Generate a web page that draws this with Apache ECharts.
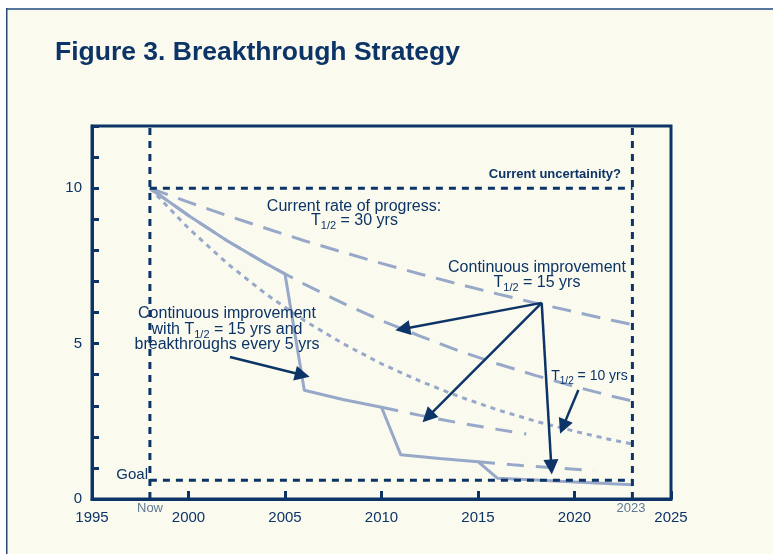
<!DOCTYPE html>
<html>
<head>
<meta charset="utf-8">
<style>
  html, body { margin: 0; padding: 0; background: #ffffff; }
  #chart { width: 773px; height: 554px; }
</style>
<script src="https://cdn.jsdelivr.net/npm/echarts/dist/echarts.min.js"></script>
</head>
<body>
<div id="chart"></div>
<script>
// values
var curveYears = [1998, 2000, 2002, 2004, 2006, 2008, 2010, 2012, 2014, 2016, 2018, 2020, 2022, 2023];
var halfLife30 = [10, 9.55, 9.12, 8.71, 8.31, 7.94, 7.58, 7.24, 6.91, 6.60, 6.30, 6.02, 5.74, 5.61];
var halfLife15 = [10, 9.12, 8.31, 7.58, 6.91, 6.30, 5.74, 5.24, 4.77, 4.35, 3.97, 3.62, 3.30, 3.15];
var halfLife10 = [10, 8.71, 7.58, 6.60, 5.74, 5.00, 4.35, 3.79, 3.30, 2.87, 2.50, 2.18, 1.89, 1.77];

var breakYears = [1998, 2000, 2002, 2004, 2005, 2006, 2008, 2010, 2011, 2013, 2015, 2016, 2018, 2020, 2023];
var breakValues = [10, 9.12, 8.31, 7.58, 7.24, 3.50, 3.20, 2.95, 1.42, 1.30, 1.20, 0.67, 0.61, 0.55, 0.46];

var after2010Years = [2010, 2012, 2014, 2016, 2017.5];
var after2010Values = [2.95, 2.69, 2.45, 2.24, 2.09];
var after2015Years = [2015, 2017, 2019, 2021];
var after2015Values = [1.20, 1.09, 1.00, 0.91];

var nowYear = 1998;
var endYear = 2023;
var startLevel = 10;
var goalLevel = 0.6;
var yTop = 12;

var xTicks = [1995, 2000, 2005, 2010, 2015, 2020, 2025];
var yLabels = [0, 5, 10];

// arrows: [from, to] in data units
var arrows = [
  [[2018.3, 6.31], [2011.1, 5.47]],
  [[2018.3, 6.31], [2012.4, 2.64]],
  [[2018.3, 6.31], [2018.8, 1.03]],
  [[2002.15, 4.57], [2005.9, 3.99]],
  [[2020.2, 3.51], [2019.4, 2.32]]
];

var navy = '#0d3466';
var light = '#97a8c9';
var FONT = 'Liberation Sans';

function pairs(xs, ys) { return xs.map(function (x, i) { return [x, ys[i]]; }); }

function curve(name, xs, ys, dash) {
  return {
    name: name, type: 'line', data: pairs(xs, ys), showSymbol: false, silent: true,
    lineStyle: { color: light, width: 3, type: dash }, z: 3
  };
}
function guide(data) {
  return {
    type: 'line', data: data, showSymbol: false, silent: true,
    lineStyle: { color: navy, width: 3, type: [7, 6] }, z: 4
  };
}

// text placed by its baseline
function txt(text, x, base, size, align, extra) {
  var s = {
    text: text, x: x, y: base - 0.35 * size, fill: navy, fontFamily: FONT, fontSize: size,
    align: align || 'center', verticalAlign: 'middle'
  };
  for (var k in extra) s[k] = extra[k];
  return { type: 'text', style: s, z: 10 };
}

var ctx = document.createElement('canvas').getContext('2d');
function measure(t, size) { ctx.font = size + 'px "' + FONT + '"'; return ctx.measureText(t).width; }

// centred line with a "1/2" subscript: before + sub + after
function subLine(before, after, cx, base, size, subSize) {
  var w1 = measure(before, size), w2 = measure('1/2', subSize), w3 = measure(after, size);
  var x0 = cx - (w1 + w2 + w3) / 2;
  return [
    txt(before, x0, base, size, 'left'),
    txt('1/2', x0 + w1, base + 4, subSize, 'left'),
    txt(after, x0 + w1 + w2, base, size, 'left')
  ];
}

var texts = [
  txt('Figure 3. Breakthrough Strategy', 55, 62, 26.5, 'left', { fontWeight: 'bold' }),
  txt('Current uncertainity?', 621, 179, 13, 'right', { fontWeight: 'bold' }),
  txt('Current rate of progress:', 354, 212, 16),
  txt('Continuous improvement', 537, 273, 16),
  txt('Continuous improvement', 227, 319, 16),
  txt('breakthroughs every 5 yrs', 227, 350, 16),
  txt('Goal', 148, 480, 15, 'right'),
  txt('Now', 150, 513, 13, 'center', { fill: '#5f7896' }),
  txt('2023', 631, 513, 13, 'center', { fill: '#5f7896' })
].concat(
  subLine('T', ' = 30 yrs', 354.5, 226, 16, 11),
  subLine('T', ' = 15 yrs', 537, 288, 16, 11),
  subLine('with T', ' = 15 yrs and', 227, 335, 16, 11),
  subLine('T', ' = 10 yrs', 589.5, 381, 14, 10)
);

var chart = echarts.init(document.getElementById('chart'));
chart.setOption({
  backgroundColor: '#fafaef',
  animation: false,
  grid: { left: 92, right: 102, top: 126, bottom: 55, show: true, borderColor: navy, borderWidth: 3 },
  xAxis: {
    type: 'value', min: xTicks[0], max: xTicks[xTicks.length - 1], interval: 5,
    axisLine: { lineStyle: { color: navy, width: 3 } },
    axisTick: { inside: true, length: 8, lineStyle: { color: navy, width: 3 } },
    axisLabel: {
      color: navy, fontSize: 15, fontFamily: FONT, margin: 11, showMinLabel: true, showMaxLabel: true,
      formatter: function (v) { return String(v); }
    },
    splitLine: { show: false }
  },
  yAxis: {
    type: 'value', min: 0, max: yTop, interval: 1,
    axisLine: { show: true, lineStyle: { color: navy, width: 3 } },
    axisTick: { inside: true, length: 7, lineStyle: { color: navy, width: 3 } },
    axisLabel: {
      color: navy, fontSize: 15, fontFamily: FONT, margin: 10,
      formatter: function (v) { return yLabels.indexOf(v) >= 0 ? String(v) : ''; }
    },
    splitLine: { show: false }
  },
  graphic: [
    { type: 'rect', shape: { x: 0, y: 0, width: 773, height: 8 }, style: { fill: '#ffffff' }, z: 1 },
    { type: 'rect', shape: { x: 0, y: 0, width: 6, height: 554 }, style: { fill: '#ffffff' }, z: 1 },
    { type: 'rect', shape: { x: 6, y: 8, width: 767, height: 2 }, style: { fill: '#56769b' }, z: 2 },
    { type: 'rect', shape: { x: 6, y: 8, width: 1.5, height: 546 }, style: { fill: '#2a4a74' }, z: 2 }
  ].concat(texts),
  series: [
    curve('30 yrs', curveYears, halfLife30, [19, 11]),
    curve('15 yrs', curveYears, halfLife15, [19, 11]),
    curve('10 yrs', curveYears, halfLife10, [5, 5]),
    curve('breakthroughs', breakYears, breakValues, 'solid'),
    curve('after 2010', after2010Years, after2010Values, [17, 12]),
    curve('after 2015', after2015Years, after2015Values, [17, 12]),
    guide([[nowYear, 0], [nowYear, yTop]]),
    guide([[endYear, 0], [endYear, yTop]]),
    guide([[nowYear, startLevel], [endYear, startLevel]]),
    guide([[nowYear, goalLevel], [endYear, goalLevel]]),
    {
      type: 'lines', coordinateSystem: 'cartesian2d', silent: true, z: 6,
      symbol: ['none', 'triangle'], symbolSize: [11, 15],
      lineStyle: { color: navy, width: 2.5, opacity: 1 },
      data: arrows.map(function (a) { return { coords: a }; })
    }
  ]
});
</script>
</body>
</html>
